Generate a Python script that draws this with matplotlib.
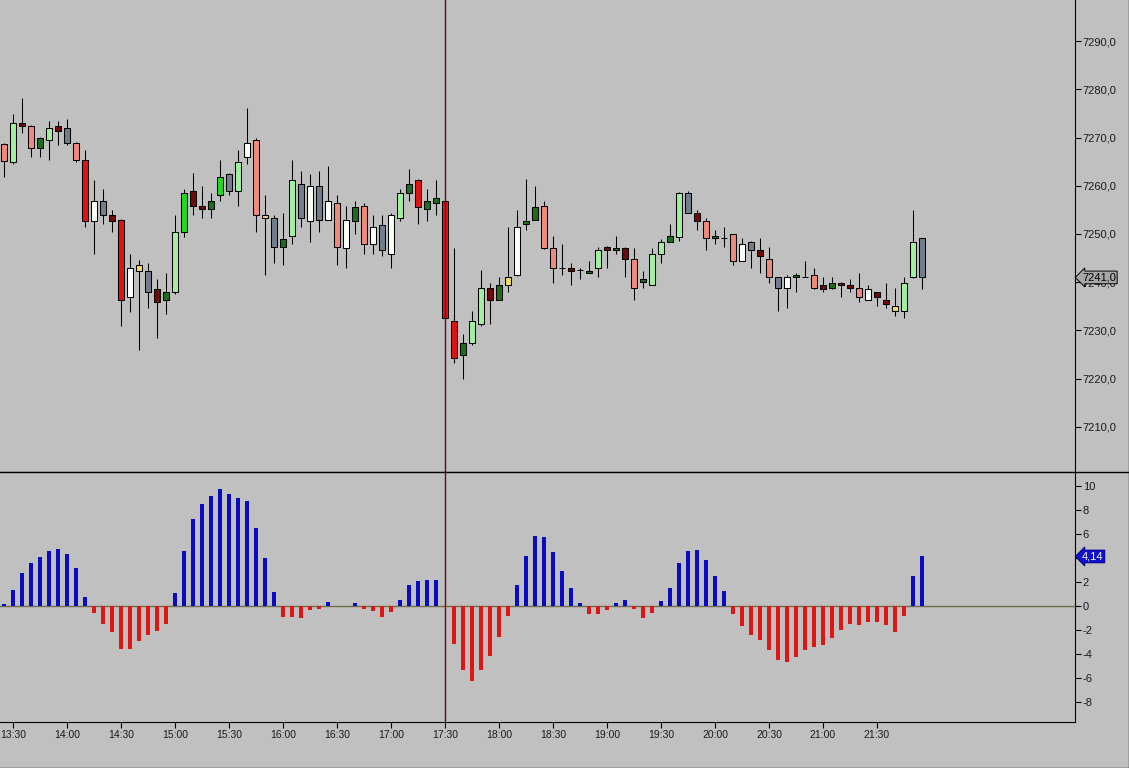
import pandas as pd
import matplotlib
matplotlib.use("Agg")
import matplotlib.pyplot as plt
from matplotlib.patches import Rectangle
from matplotlib.lines import Line2D

# bougies de 5 minutes, de 13:25 a 21:55
heures = pd.date_range("13:25", periods=103, freq="5min").strftime("%H:%M").tolist()

ouvertures = [7268.6, 7265.0, 7273.1, 7272.4, 7267.9, 7269.5, 7272.4, 7272.0, 7268.9, 7265.4,
              7252.6, 7256.9, 7254.0, 7253.0, 7237.0, 7242.4, 7242.4, 7238.5, 7236.4, 7237.9,
              7250.5, 7259.0, 7255.9, 7255.1, 7258.0, 7262.5, 7259.0, 7266.0, 7269.5, 7253.4,
              7253.4, 7247.4, 7249.5, 7260.4, 7252.6, 7260.0, 7253.0, 7256.5, 7247.0, 7252.6,
              7255.9, 7248.0, 7251.9, 7245.9, 7253.4, 7258.6, 7261.1, 7255.1, 7256.5, 7256.9,
              7231.9, 7225.0, 7227.5, 7231.4, 7238.9, 7236.4, 7239.5, 7241.4, 7252.0, 7253.0,
              7255.9, 7247.0, 7243.0, 7243.0, 7242.6, 7242.0, 7243.0, 7247.4, 7246.6, 7247.0,
              7244.9, 7240.0, 7239.5, 7245.9, 7248.4, 7249.4, 7258.6, 7254.4, 7252.6, 7249.5,
              7249.1, 7249.9, 7244.5, 7248.4, 7246.6, 7244.9, 7241.0, 7238.9, 7241.0, 7241.0,
              7241.4, 7239.5, 7238.9, 7239.9, 7239.5, 7238.9, 7236.4, 7237.9, 7236.4, 7234.0,
              7234.0, 7241.0, 7249.1]
hauts = [7268.8, 7274.9, 7278.2, 7272.6, 7270.2, 7273.5, 7273.5, 7273.9, 7269.0, 7267.5,
         7261.1, 7259.4, 7255.0, 7253.1, 7245.9, 7244.6, 7243.9, 7240.6, 7242.0, 7254.0,
         7259.4, 7262.6, 7260.0, 7258.6, 7265.4, 7262.6, 7267.5, 7276.2, 7270.0, 7258.0,
         7254.0, 7254.4, 7265.4, 7263.0, 7262.5, 7263.0, 7264.0, 7258.0, 7255.9, 7256.9,
         7256.5, 7254.0, 7254.0, 7254.4, 7259.4, 7263.5, 7261.5, 7259.4, 7261.1, 7257.0,
         7247.0, 7229.2, 7234.1, 7242.6, 7239.9, 7241.0, 7251.5, 7255.0, 7261.5, 7260.0,
         7256.9, 7249.5, 7248.0, 7243.9, 7243.0, 7244.5, 7247.4, 7247.5, 7249.5, 7247.4,
         7247.0, 7242.4, 7247.0, 7249.0, 7252.0, 7258.7, 7259.0, 7255.0, 7253.4, 7250.9,
         7251.5, 7250.0, 7249.1, 7248.5, 7249.1, 7247.4, 7241.1, 7241.4, 7242.0, 7244.5,
         7243.0, 7241.0, 7241.0, 7240.0, 7240.6, 7242.0, 7239.5, 7238.0, 7239.9, 7238.9,
         7241.0, 7255.0, 7249.2]
bas = [7261.8, 7264.6, 7270.9, 7265.9, 7265.9, 7265.4, 7268.5, 7268.5, 7264.9, 7251.5,
       7245.9, 7252.0, 7250.4, 7230.9, 7233.9, 7225.9, 7234.6, 7228.5, 7233.5, 7237.5,
       7249.4, 7254.0, 7253.4, 7253.4, 7256.9, 7258.0, 7255.9, 7264.6, 7250.5, 7241.4,
       7243.9, 7243.5, 7248.0, 7251.5, 7248.3, 7250.5, 7252.9, 7243.5, 7243.0, 7249.9,
       7245.9, 7245.9, 7245.5, 7243.0, 7252.6, 7256.9, 7252.0, 7252.6, 7254.0, 7230.0,
       7223.2, 7219.9, 7226.9, 7231.0, 7231.4, 7236.3, 7237.9, 7241.3, 7250.9, 7252.9,
       7246.9, 7239.9, 7241.4, 7239.5, 7240.6, 7241.9, 7241.0, 7243.0, 7245.9, 7241.0,
       7236.4, 7238.9, 7239.4, 7243.9, 7248.3, 7248.5, 7254.3, 7250.9, 7246.6, 7248.0,
       7247.4, 7243.5, 7244.4, 7243.0, 7242.0, 7239.9, 7234.0, 7234.6, 7237.9, 7241.0,
       7238.5, 7237.9, 7238.5, 7237.0, 7237.9, 7236.0, 7236.3, 7235.0, 7234.6, 7233.0,
       7232.5, 7240.9, 7238.5]
fermetures = [7265.1, 7273.1, 7272.4, 7267.9, 7270.0, 7272.0, 7271.4, 7268.9, 7265.4, 7252.6,
              7256.9, 7254.0, 7252.6, 7236.4, 7243.0, 7243.5, 7237.9, 7236.0, 7237.9, 7250.5,
              7258.6, 7255.9, 7255.1, 7256.9, 7261.9, 7259.0, 7265.0, 7268.9, 7254.0, 7254.0,
              7247.4, 7249.0, 7261.1, 7253.4, 7260.0, 7253.0, 7256.9, 7247.4, 7253.0, 7255.5,
              7248.0, 7251.5, 7246.6, 7254.0, 7258.6, 7260.4, 7255.5, 7256.9, 7257.5, 7232.5,
              7224.4, 7227.5, 7231.9, 7238.9, 7236.4, 7239.5, 7241.0, 7251.5, 7252.6, 7255.5,
              7247.0, 7243.0, 7243.0, 7242.4, 7242.6, 7242.4, 7246.6, 7246.6, 7247.0, 7244.9,
              7238.9, 7240.6, 7245.9, 7248.4, 7249.5, 7258.6, 7254.4, 7252.6, 7249.1, 7249.1,
              7249.1, 7244.5, 7248.0, 7246.6, 7245.5, 7241.0, 7238.9, 7241.0, 7241.4, 7241.0,
              7238.9, 7238.5, 7239.9, 7239.5, 7238.9, 7237.0, 7238.5, 7237.0, 7235.4, 7235.0,
              7239.9, 7248.4, 7241.0]
types_bougie = ["s", "lg", "m", "s", "dg", "lg", "m", "sl", "s", "r",
                "w", "sl", "m", "r", "w", "y", "sl", "m", "dg", "lg",
                "g", "m", "m", "dg", "g", "sl", "lg", "w", "s", "t",
                "sl", "dg", "lg", "sl", "w", "sl", "w", "s", "w", "dg",
                "s", "w", "sl", "w", "lg", "dg", "r", "dg", "dg", "r",
                "r", "dg", "lg", "lg", "m", "dg", "y", "w", "dg", "dg",
                "s", "s", "x", "m", "x", "dg", "lg", "m", "dg", "m",
                "s", "dg", "lg", "lg", "dg", "lg", "sl", "m", "s", "dg",
                "x", "s", "w", "sl", "m", "s", "sl", "w", "dg", "x",
                "s", "m", "dg", "m", "m", "s", "w", "m", "m", "y",
                "lg", "lg", "sl"]

# histogramme de l'indicateur du bas
histo = [0.17, 1.37, 2.8, 3.56, 4.06, 4.57, 4.73, 4.31, 3.14, 0.78,
         -0.56, -1.48, -2.16, -3.59, -3.59, -2.91, -2.41, -2.07, -1.48, 1.12,
         4.57, 7.25, 8.52, 9.19, 9.78, 9.36, 9.02, 8.77, 6.5, 3.98,
         1.2, -0.92, -0.92, -1.0, -0.34, -0.25, 0.36, 0.0, 0.0, 0.28,
         -0.25, -0.42, -0.92, -0.5, 0.53, 1.79, 2.13, 2.21, 2.21, -0.1,
         -3.17, -5.35, -6.19, -5.35, -4.17, -2.58, -0.81, 1.79, 4.15, 5.83,
         5.74, 4.48, 2.97, 1.54, 0.28, -0.64, -0.64, -0.31, 0.28, 0.53,
         -0.22, -0.98, -0.56, 0.45, 1.54, 3.56, 4.57, 4.71, 3.81, 2.55,
         1.29, -0.64, -1.65, -2.41, -2.83, -3.67, -4.51, -4.68, -4.26, -3.67,
         -3.42, -3.25, -2.66, -1.99, -1.48, -1.57, -1.32, -1.32, -1.57, -2.16,
         -0.81, 2.55, 4.14]

etiquettes_temps = ["13:30", "14:00", "14:30", "15:00", "15:30", "16:00", "16:30", "17:00",
                    "17:30", "18:00", "18:30", "19:00", "19:30", "20:00", "20:30", "21:00", "21:30"]
ticks_prix = [7210, 7220, 7230, 7240, 7250, 7260, 7270, 7280, 7290]
ticks_histo = [-8, -6, -4, -2, 0, 2, 4, 6, 8, 10]
heure_marque = "17:30"
dernier_prix = 7241.0

couleurs = {
    "lg": "#a0f0a0", "g": "#22d822", "dg": "#1b6e1b", "w": "#fbfffb",
    "y": "#f0dc60", "t": "#f2c890", "r": "#e21212", "s": "#f08a7a",
    "m": "#6e0a0a", "sl": "#727e8c",
}

fond = "#c0c0c0"
plt.rcParams["font.family"] = ["Liberation Sans", "DejaVu Sans"]

fig = plt.figure(figsize=(11.29, 7.68), dpi=100, facecolor=fond)
ax1 = fig.add_axes([0, 296 / 768, 1075 / 1129, 472 / 768], facecolor=fond)
ax2 = fig.add_axes([0, 46 / 768, 1075 / 1129, 250 / 768], facecolor=fond)

lw = 0.75
largeur = 0.64

# bougies
for i in range(len(heures)):
    ax1.vlines(i, bas[i], hauts[i], color="black", lw=lw, zorder=2)
    if types_bougie[i] == "x":
        ax1.hlines(ouvertures[i], i - largeur / 2, i + largeur / 2, color="black", lw=lw, zorder=3)
        continue
    y0 = min(ouvertures[i], fermetures[i])
    h = abs(fermetures[i] - ouvertures[i])
    ax1.add_patch(Rectangle((i - largeur / 2, y0), largeur, h, facecolor=couleurs[types_bougie[i]],
                            edgecolor="black", lw=lw, zorder=3))

# histogramme bleu / rouge
x = list(range(len(histo)))
couleurs_histo = ["#0a0ac0" if v >= 0 else "#e01515" for v in histo]
ax2.bar(x, histo, width=0.44, color=couleurs_histo, zorder=3)
ax2.axhline(0, color="#6e6e4a", lw=1, zorder=2)

# ligne verticale de 17:30
xm = heures.index(heure_marque)
ax1.axvline(xm, color="#5a0a24", lw=1, zorder=4)
ax2.axvline(xm, color="#5a0a24", lw=1, zorder=4)

xmin, xmax = -4 / 9, 1071 / 9
for ax in (ax1, ax2):
    ax.set_xlim(xmin, xmax)
    ax.spines["top"].set_visible(False)
    ax.spines["left"].set_visible(False)
    ax.spines["right"].set_color("black")
    ax.spines["bottom"].set_color("black")
    ax.yaxis.tick_right()
    ax.tick_params(axis="y", direction="out", length=4, width=0.8, pad=1.5,
                   labelsize=8, colors="black", labelcolor="#1a1a1a")

ax1.set_ylim(7200.67, 7298.5)
ax1.set_yticks(ticks_prix)
ax1.set_yticklabels([f"{t},0" for t in ticks_prix])
ax1.set_xticks([])

ax2.set_ylim(-9.64, 11.17)
ax2.set_yticks(ticks_histo)
ax2.set_yticklabels([str(t) for t in ticks_histo])
ax2.set_xticks([heures.index(h) for h in etiquettes_temps])
ax2.set_xticklabels(etiquettes_temps)
ax2.tick_params(axis="x", direction="out", length=4, width=0.8, pad=2,
                labelsize=7.5, colors="black", labelcolor="#1a1a1a")

# etiquettes de derniere valeur
ax1.annotate(f"{dernier_prix:.1f}".replace(".", ","), xy=(1.0, dernier_prix),
             xycoords=("axes fraction", "data"), xytext=(5, 0), textcoords="offset points",
             va="center", ha="left", fontsize=8, color="black", annotation_clip=False,
             bbox=dict(boxstyle="larrow,pad=0.12", fc="#a8a8a8", ec="black", lw=0.7), zorder=10)
ax2.annotate(f"{histo[-1]:.2f}".replace(".", ","), xy=(1.0, histo[-1]),
             xycoords=("axes fraction", "data"), xytext=(5, 0), textcoords="offset points",
             va="center", ha="left", fontsize=8, color="white", annotation_clip=False,
             bbox=dict(boxstyle="larrow,pad=0.12", fc="#1010d0", ec="#000080", lw=0.7), zorder=10)

# cadres de la fenetre
fig.add_artist(Line2D([0, 1], [296 / 768, 296 / 768], color="black", lw=1))
fig.add_artist(Line2D([1128.5 / 1129, 1128.5 / 1129], [0, 1], color="#202020", lw=1))
fig.add_artist(Line2D([0, 1], [0.5 / 768, 0.5 / 768], color="#202020", lw=1))

fig.savefig("out.png", dpi=100, facecolor=fond)
